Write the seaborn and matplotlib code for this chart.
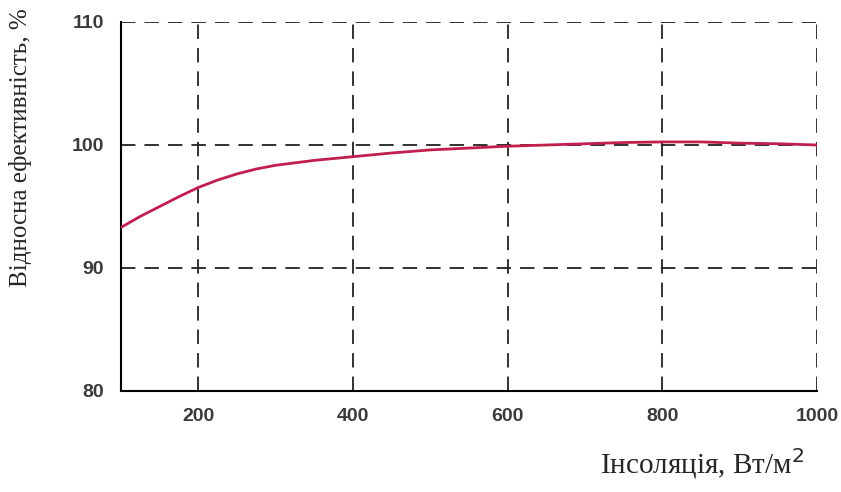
import pandas as pd
import matplotlib
matplotlib.use('Agg')
import matplotlib.pyplot as plt
import seaborn as sns

# Values
insolation = [100, 125, 150, 175, 200, 225, 250, 275, 300, 350, 400, 450, 500, 550, 600, 650, 700, 750, 800, 850, 900, 950, 1000]
efficiency = [93.3, 94.2, 95.0, 95.8, 96.55, 97.15, 97.65, 98.05, 98.35, 98.75, 99.05, 99.35, 99.6, 99.75, 99.9, 100.0, 100.1, 100.2, 100.25, 100.25, 100.15, 100.1, 100.0]
x_ticks = [200, 400, 600, 800, 1000]
y_ticks = [80, 90, 100, 110]

df = pd.DataFrame({'x': insolation, 'y': efficiency})

sns.set_style('white')

fig = plt.figure(figsize=(8.41, 4.92), dpi=100)
ax = fig.add_axes([0.1439, 0.2053, 0.8276, 0.75])

sns.lineplot(data=df, x='x', y='y', ax=ax, color='#c21f4e', linewidth=2.0, zorder=3)

ax.set_xlim(100, 1000)
ax.set_ylim(80, 110)
ax.set_xticks(x_ticks)
ax.set_yticks(y_ticks)

# dashed grid, including the top and right edges
ax.grid(True, color='#222222', linestyle=(0, (8, 5)), linewidth=1.3)
for s in ['top', 'right']:
    ax.spines[s].set_visible(False)
for s in ['left', 'bottom']:
    ax.spines[s].set_color('black')
    ax.spines[s].set_linewidth(1.5)

ax.tick_params(length=0)
for lab in ax.get_xticklabels() + ax.get_yticklabels():
    lab.set_fontfamily('Liberation Sans')
    lab.set_fontweight('bold')
    lab.set_fontsize(14)
    lab.set_color('#3a3a3a')
ax.tick_params(axis='x', pad=12)
ax.tick_params(axis='y', pad=12)

ax.set_xlabel('Інсоляція, Вт/м$^2$', fontfamily='Liberation Serif', fontsize=21)
ax.xaxis.set_label_coords(0.835, -0.15)
ax.set_ylabel('Відносна ефективність, %', fontfamily='Liberation Serif', fontsize=18)
ax.yaxis.set_label_coords(-0.128, 0.66)

fig.savefig('out.png', dpi=100)
